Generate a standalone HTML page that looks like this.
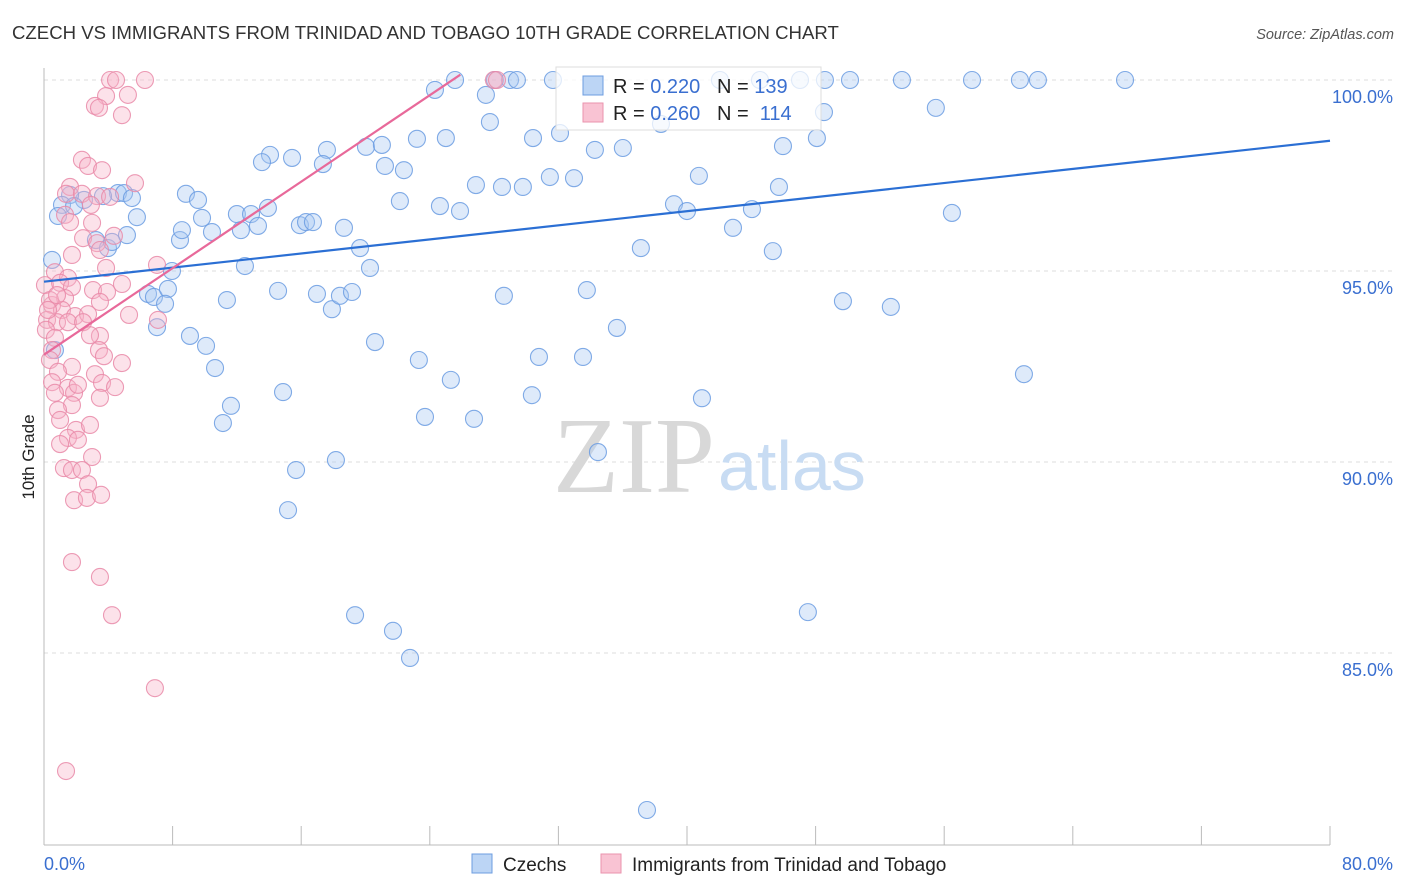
<!DOCTYPE html>
<html><head><meta charset="utf-8">
<style>
body{margin:0;background:#fff;font-family:"Liberation Sans",sans-serif;}
#wrap{position:relative;width:1406px;height:892px;overflow:hidden;}
</style></head>
<body>
<div id="wrap">
<svg id="svg" width="1406" height="892" xmlns="http://www.w3.org/2000/svg">
<text x="12" y="39" font-size="18.6" fill="#333">CZECH VS IMMIGRANTS FROM TRINIDAD AND TOBAGO 10TH GRADE CORRELATION CHART</text>
<text x="1394" y="39" font-size="14.5" fill="#555" font-style="italic" text-anchor="end">Source: ZipAtlas.com</text>
<g id="grid"></g>
<text x="715" y="492" font-size="108" fill="#d8d8d8" text-anchor="end" font-family="Liberation Serif,serif">ZIP</text>
<text x="718" y="490" font-size="70" fill="#c8dcf3">atlas</text>
<g id="axes"></g>
<text transform="translate(34,457) rotate(-90)" font-size="17" fill="#222" text-anchor="middle">10th Grade</text>
<g id="pts"></g>
<g id="lines"></g>
<g>
<rect x="556" y="67" width="265" height="63" fill="#fff" fill-opacity="0.75" stroke="#ddd"/>
<rect x="583" y="76" width="20" height="19" fill="#bcd5f5" stroke="#6d9de0"/>
<rect x="583" y="103" width="20" height="19" fill="#f9c3d3" stroke="#ea93ae"/>
<text x="613" y="93" font-size="20" fill="#222">R = <tspan fill="#3a6fd0">0.220</tspan>&#160;&#160; N = <tspan fill="#3a6fd0">139</tspan></text>
<text x="613" y="120" font-size="20" fill="#222">R = <tspan fill="#3a6fd0">0.260</tspan>&#160;&#160; N = &#160;<tspan fill="#3a6fd0">114</tspan></text>
</g>
<g>
<rect x="472" y="854" width="20" height="19" fill="#bcd5f5" stroke="#6d9de0"/>
<text x="503" y="871" font-size="19" fill="#222">Czechs</text>
<rect x="601" y="854" width="20" height="19" fill="#f9c3d3" stroke="#ea93ae"/>
<text x="632" y="871" font-size="19" fill="#222">Immigrants from Trinidad and Tobago</text>
</g>
</svg>
</div>
<script>
const blueX=[25.57,28.05,28.99,29.42,31.66,42.05,44.54,47.03,48.58,50.14,53.37,57.73,60.71,61.83,67.25,24.32,27.49,48.52,55.48,27.74,38.38,32.10,30.42,23.20,25.00,34.27,36.01,45.97,48.08,20.03,21.02,17.60,14.06,13.56,15.43,17.35,21.21,22.39,26.87,28.49,29.79,31.47,32.97,40.74,45.72,8.83,9.58,4.60,4.98,5.47,3.67,2.49,1.62,1.12,1.87,0.87,5.78,9.83,12.00,12.88,13.93,22.14,24.63,25.88,39.19,40.00,44.04,56.48,12.25,13.31,15.92,16.30,16.73,18.66,10.45,8.46,8.58,5.16,3.23,3.98,4.23,0.50,12.50,19.66,20.28,37.13,42.86,45.34,7.96,6.47,6.84,7.71,7.53,11.38,14.56,16.98,17.91,18.41,19.16,28.61,33.77,49.70,52.68,7.03,9.08,10.08,20.59,23.32,25.31,30.79,33.53,35.64,10.64,14.87,11.63,11.13,23.70,26.75,30.35,40.93,60.96,0.68,15.68,18.16,34.46,15.18,19.35,21.71,22.77,47.52,37.51];
const blueY=[100,100,100,100,100,100,100,100,100,100,100,100,100,100,100,99.74,99.61,99.16,99.27,98.90,98.85,98.61,98.48,98.46,98.48,98.17,98.22,98.27,98.48,98.25,98.30,98.17,98.04,97.85,97.96,97.80,97.75,97.64,97.25,97.20,97.20,97.46,97.43,97.49,97.20,97.02,96.86,97.04,97.04,96.91,96.96,96.86,96.99,96.73,96.70,96.44,96.41,96.39,96.49,96.49,96.65,96.83,96.70,96.57,96.75,96.57,96.62,96.52,96.07,96.18,96.20,96.28,96.28,96.13,96.02,95.81,96.07,95.94,95.81,95.60,95.76,95.29,95.13,95.60,95.08,95.60,96.13,95.52,95.00,94.40,94.32,94.53,94.14,94.24,94.48,94.40,94.00,94.35,94.45,94.35,94.50,94.21,94.06,93.53,93.30,93.04,93.14,92.67,92.15,92.75,92.75,93.51,92.46,91.83,91.47,91.02,91.18,91.13,91.75,91.67,92.30,92.93,89.79,90.05,90.26,88.74,85.99,85.58,84.87,86.07,80.89];
const pinkX=[4.11,4.48,6.28,27.99,28.18,3.86,5.22,3.17,3.42,4.85,2.36,2.74,3.61,5.66,1.62,1.37,2.36,3.30,4.11,2.92,1.31,1.62,2.99,2.43,3.30,4.35,3.48,1.74,7.03,3.86,0.68,1.49,0.06,1.00,1.74,3.05,3.92,4.85,1.31,3.48,0.50,1.12,1.93,2.74,0.19,0.81,1.49,2.43,5.29,7.09,0.12,0.68,3.48,2.86,0.50,3.42,0.37,3.73,4.85,1.74,0.87,3.17,0.50,1.49,0.68,1.87,2.11,3.61,4.42,3.48,1.74,0.87,1.00,1.99,2.86,1.49,2.11,1.00,2.99,1.24,1.74,2.36,2.74,1.87,2.67,3.55,1.74,3.48,4.23,6.90,1.37,0.37,0.25,0.81];
const pinkY=[100,100,100,100,100,99.58,99.61,99.32,99.27,99.08,97.91,97.75,97.64,97.30,97.20,97.02,97.02,96.96,96.94,96.73,96.47,96.28,96.26,95.86,95.73,95.92,95.55,95.42,95.16,95.08,94.97,94.82,94.63,94.69,94.58,94.50,94.45,94.66,94.29,94.19,94.11,93.98,93.82,93.87,93.72,93.66,93.66,93.66,93.85,93.72,93.46,93.25,93.30,93.32,92.93,92.93,92.67,92.77,92.59,92.49,92.36,92.30,92.09,91.94,91.81,91.81,92.02,92.07,91.96,91.68,91.49,91.36,91.10,90.84,90.97,90.63,90.58,90.47,90.13,89.84,89.79,89.79,89.42,89.00,89.06,89.14,87.38,86.99,85.99,84.08,81.91,94.24,93.98,94.37];
const yTicks=[100,95,90,85];
const yTickLabels=["100.0%","95.0%","90.0%","85.0%"];
const xTickVals=[0,8,16,24,32,40,48,56,64,72,80];
const blueTrend=[[0,94.72],[80,98.41]];
const pinkTrend=[[0,92.81],[25.9,100.14]];

const NS="http://www.w3.org/2000/svg";
function sx(v){return 44+v*16.075;}
function sy(v){return 80+(100-v)*38.2;}
function mk(tag,attrs,parent){const e=document.createElementNS(NS,tag);for(const k in attrs)e.setAttribute(k,attrs[k]);parent.appendChild(e);return e;}
const grid=document.getElementById('grid'),axes=document.getElementById('axes'),pts=document.getElementById('pts'),lines=document.getElementById('lines');
yTicks.forEach((t,i)=>{
  const l=mk('line',{x1:44,x2:1394,y1:sy(t),y2:sy(t),stroke:'#ddd','stroke-dasharray':'4,4'},grid);
  
  
  const tx=mk('text',{x:1393,y:sy(t)+23,'font-size':18,fill:'#3a6fd0','text-anchor':'end'},axes);
  tx.textContent=yTickLabels[i];
  
  
});
mk('line',{x1:44,x2:44,y1:68,y2:845,stroke:'#bbb'},axes);
mk('line',{x1:44,x2:1330,y1:845,y2:845,stroke:'#bbb'},axes);
xTickVals.forEach(v=>{
  const l=mk('line',{x1:sx(v),x2:sx(v),y1:826,y2:845,stroke:'#bbb'},axes);
  
  
});
const x0=mk('text',{x:44,y:870,'font-size':18,fill:'#3a6fd0'},axes);x0.textContent='0.0%';


const x1=mk('text',{x:1393,y:870,'font-size':18,fill:'#3a6fd0','text-anchor':'end'},axes);x1.textContent='80.0%';


function drawPts(X,Y,fill,stroke,name){
  X.forEach((x,i)=>{
    const c=mk('circle',{cx:sx(x),cy:sy(Y[i]),r:8.5,fill:fill,'fill-opacity':0.38,stroke:stroke,'stroke-opacity':0.85,'stroke-width':1.1},pts);
    
    
  });
}
drawPts(blueX,blueY,'#a9c8f2','#6b9ce2','czech-point');
drawPts(pinkX,pinkY,'#f7b3c8','#e98aa8','immigrant-point');
const bl=mk('line',{x1:sx(blueTrend[0][0]),y1:sy(blueTrend[0][1]),x2:sx(blueTrend[1][0]),y2:sy(blueTrend[1][1]),stroke:'#2b6fd4','stroke-width':2.2},lines);


const pl=mk('line',{x1:sx(pinkTrend[0][0]),y1:sy(pinkTrend[0][1]),x2:sx(pinkTrend[1][0]),y2:sy(pinkTrend[1][1]),stroke:'#e8699a','stroke-width':2.2},lines);


</script>
</body></html>
